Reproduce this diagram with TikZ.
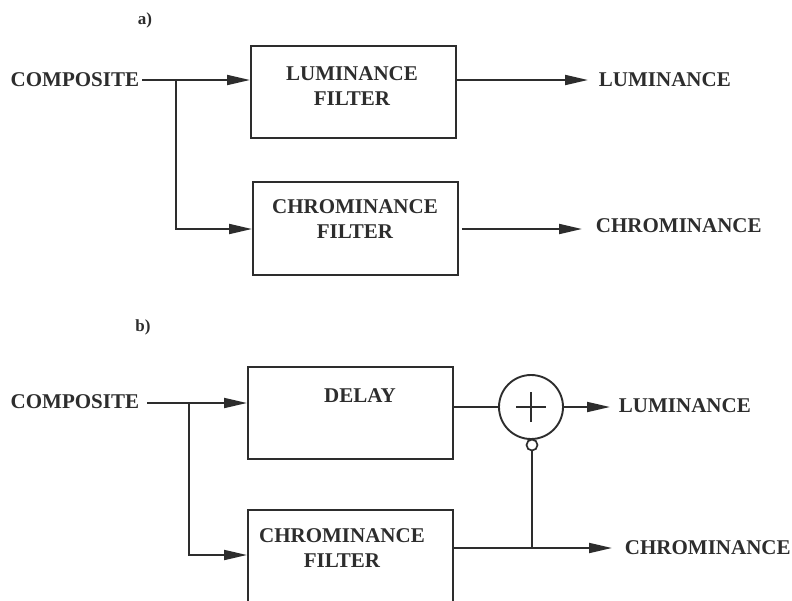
\documentclass[tikz,border=0pt]{standalone}
\usepackage{fontspec}
\setmainfont{Liberation Serif}
\usetikzlibrary{arrows.meta,calc}
\definecolor{ink}{RGB}{45,45,45}
\begin{document}
\begin{tikzpicture}[x=1pt,y=-1pt, line width=1.9pt, color=ink,
  lbl/.style={font=\fontsize{21}{25}\selectfont\bfseries, text=ink, inner sep=0pt, align=center},
  tag/.style={font=\fontsize{17}{20}\selectfont\bfseries, text=ink, inner sep=0pt},
  blk/.style={draw=ink, line width=1.9pt, minimum width=205pt, minimum height=92pt, inner sep=0pt, anchor=north west},
  arr/.style={-{Triangle[length=23pt,width=10pt]}},
]
\useasboundingbox (0,0) rectangle (792,600);
\clip (0,0) rectangle (792,600);

% ---------- panel a ----------
\node[tag] (tA) at (145,20) {a)};
\node[lbl, anchor=east] (compA) at (140,80) {COMPOSITE};
\node[blk] (lfA) at (250,45) {};
\node[lbl] (lfAt) at (352,86) {LUMINANCE\\FILTER};
\node[blk, minimum height=93pt] (cfA) at (252,181) {};
\node[lbl] (cfAt) at (355,219) {CHROMINANCE\\FILTER};
\node[lbl, anchor=west] (lumA) at (598,80) {LUMINANCE};
\node[lbl, anchor=west] (chrA) at (595,226) {CHROMINANCE};
\coordinate (jA) at (176,80);
\coordinate (yA2) at (0,229);

\draw[arr] ([xshift=2pt]compA.east) -- (lfA.west |- compA.east);
\draw[arr] (jA) |- (cfA.west |- yA2);
\draw[arr] (lfA.east |- lumA.west) -- ([xshift=-10pt]lumA.west);
\draw[arr] ([xshift=3pt]cfA.east |- yA2) -- ([xshift=-13pt]chrA.west |- yA2);

% ---------- panel b ----------
\node[tag] (tB) at (143,327) {b)};
\node[lbl, anchor=east] (compB) at (140,402) {COMPOSITE};
\node[blk] (dlB) at (247,366) {};
\node[lbl] (dlBt) at (360,396) {DELAY};
\node[blk, minimum height=130pt] (cfB) at (247,509) {};
\node[lbl] (cfBt) at (342,548) {CHROMINANCE\\FILTER};
\node[draw=ink, circle, minimum size=64pt, inner sep=0pt, line width=1.9pt] (sum) at (531,407) {};
\node[draw=ink, circle, minimum size=11pt, inner sep=0pt, line width=1.7pt] (inv) at (532,445) {};
\node[lbl, anchor=west] (lumB) at (618,406) {LUMINANCE};
\node[lbl, anchor=west] (chrB) at (624,548) {CHROMINANCE};
\coordinate (jB) at (189,403);
\coordinate (yB2) at (0,555);
\coordinate (yB3) at (0,548);

\draw[line width=1.5pt] ([xshift=-15pt]sum.center) -- ([xshift=15pt]sum.center);
\draw[line width=1.5pt] ([yshift=-15pt]sum.center) -- ([yshift=15pt]sum.center);

\draw[arr] ([xshift=7pt]compB.east |- jB) -- (dlB.west |- jB);
\draw[arr] (jB) |- (cfB.west |- yB2);
\draw (dlB.east |- sum.west) -- (sum.west);
\draw[arr] (sum.east) -- ([xshift=-8pt]lumB.west |- sum.east);
\draw[arr] (cfB.east |- yB3) -- ([xshift=-12pt]chrB.west |- yB3);
\draw (inv.south) -- (inv.south |- yB3);
\end{tikzpicture}
\end{document}
